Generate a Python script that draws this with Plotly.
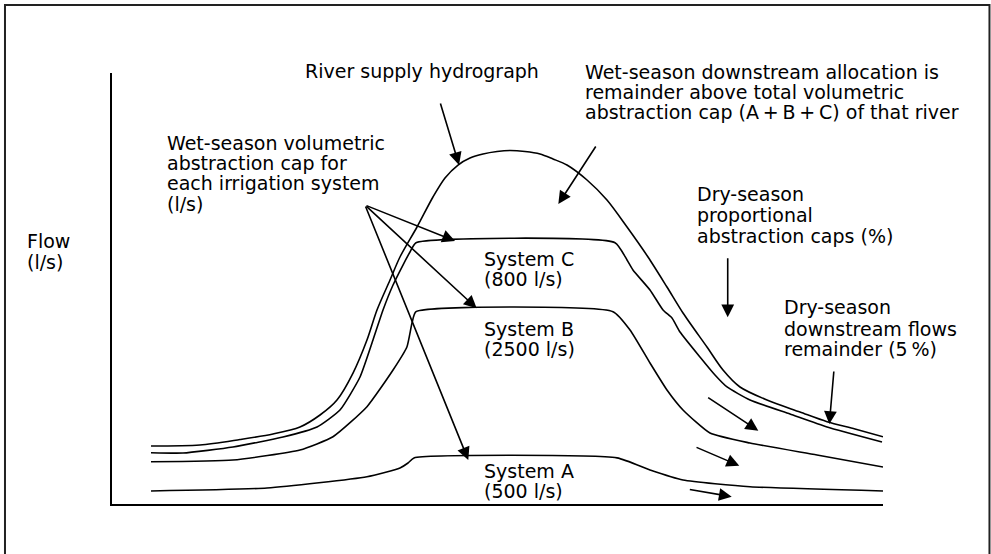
import plotly.graph_objects as go

# ---- Data (time in relative units 0-100, flow in relative units 0-100) ----
river_x = [5.06, 11.41, 16.60, 20.88, 24.38, 26.98, 29.18, 31.26, 33.07, 34.37, 36.06, 37.35,
           39.56, 41.63, 43.19, 44.88, 46.43, 48.12, 49.94, 51.62, 53.57, 55.51, 57.20, 59.01,
           61.61, 64.20, 66.80, 69.52, 71.98, 74.06, 77.17, 79.25, 81.45, 84.95, 89.23, 92.74,
           96.37, 100.0]
river_y = [13.46, 13.69, 14.97, 16.24, 17.87, 20.65, 24.13, 30.39, 38.05, 45.01, 51.97, 57.31,
           64.27, 71.23, 75.64, 78.65, 80.28, 81.21, 81.79, 82.02, 81.79, 81.21, 80.05, 78.65,
           75.17, 70.53, 64.27, 57.31, 50.35, 44.32, 36.43, 31.09, 27.15, 24.13, 21.35, 19.10,
           17.40, 15.61]

sysC_x = [5.06, 9.21, 15.69, 22.18, 26.59, 29.57, 32.17, 33.85, 35.15, 36.45, 37.74, 38.65, 39.43,
          65.24, 66.80, 67.57, 69.78, 71.47, 72.63, 73.67, 76.26, 78.21, 79.77, 82.75, 87.94,
          92.74, 99.87]
sysC_y = [11.90, 11.83, 13.23, 15.55, 17.87, 21.81, 29.47, 38.05, 45.01, 50.81, 55.45, 58.47, 60.63,
          60.63, 56.61, 54.29, 49.65, 45.01, 43.16, 39.91, 34.11, 29.93, 27.15, 24.13, 20.88,
          17.87, 14.39]

sysB_x = [5.06, 15.69, 24.38, 28.66, 33.07, 36.45, 38.26, 38.91, 39.43,
          64.98, 67.19, 69.78, 71.98, 74.06, 77.56, 82.75, 91.44, 100.0]
sysB_y = [9.81, 10.21, 12.53, 15.61, 22.58, 31.09, 36.50, 42.00, 44.62,
          44.62, 40.37, 32.71, 26.45, 21.81, 16.47, 14.15, 11.37, 8.58]

sysA_x = [5.06, 20.10, 33.07, 37.35, 38.39, 39.17, 65.50, 69.78, 74.06, 82.75, 100.0]
sysA_y = [3.02, 3.71, 6.33, 8.35, 9.51, 10.70, 10.70, 7.89, 5.57, 4.01, 3.02]

# arrows: (tail_x, tail_y, head_x, head_y)
arrows = [
    (42.54, 93.27, 45.01, 78.65),   # river supply hydrograph
    (62.87, 83.29, 57.89, 69.61),   # wet-season downstream allocation
    (32.81, 69.37, 44.49, 61.02),   # cap -> System C
    (32.81, 69.37, 47.30, 45.41),   # cap -> System B
    (32.81, 69.37, 46.21, 10.21),   # cap -> System A
    (79.86, 57.38, 79.86, 43.32),   # dry-season proportional caps
    (93.64, 31.09, 93.04, 18.56),   # dry-season downstream remainder
    (77.13, 24.90, 83.83, 17.01),
    (75.62, 13.29, 81.36, 8.89),
    (74.75, 3.41, 80.38, 1.69),
]

# text lines: (text, x, baseline y)  in axis units
labels = [
    ("River supply hydrograph", 24.77, 99.07),
    ("Wet-season downstream allocation is", 61.09, 98.84),
    ("remainder above total volumetric", 61.09, 94.20),
    ("abstraction cap (A\u2009+\u2009B\u2009+\u2009C) of that river", 61.09, 89.56),
    ("Wet-season volumetric", 6.87, 82.48),
    ("abstraction cap for", 6.87, 77.73),
    ("each irrigation system", 6.87, 72.97),
    ("(l/s)", 6.87, 68.21),
    ("Flow", -11.28, 59.63),
    ("(l/s)", -11.28, 54.75),
    ("System C", 47.99, 55.45),
    ("(800 l/s)", 47.99, 50.81),
    ("System B", 47.99, 39.21),
    ("(2500 l/s)", 47.99, 34.57),
    ("System A", 47.99, 6.26),
    ("(500 l/s)", 47.99, 1.69),
    ("Dry-season", 75.62, 70.53),
    ("proportional", 75.62, 65.66),
    ("abstraction caps (%)", 75.62, 60.90),
    ("Dry-season", 86.96, 44.25),
    ("downstream flows", 86.96, 39.21),
    ("remainder (5\u2009%)", 86.96, 34.57),
]

FONT = "DejaVu Sans"
FSIZE = 19

fig = go.Figure()
for xs, ys, sm in [(river_x, river_y, 0.8), (sysC_x, sysC_y, 0.5),
                   (sysB_x, sysB_y, 0.5), (sysA_x, sysA_y, 0.5)]:
    fig.add_trace(go.Scatter(x=xs, y=ys, mode="lines",
                             line=dict(color="black", width=1.6, shape="spline", smoothing=sm),
                             hoverinfo="skip", showlegend=False))

annotations = []
for tx, ty, hx, hy in arrows:
    annotations.append(dict(x=hx, y=hy, ax=tx, ay=ty, xref="x", yref="y", axref="x", ayref="y",
                            text="", showarrow=True, arrowhead=2, arrowsize=1.6,
                            arrowwidth=1.6, arrowcolor="black"))
for txt, x, y in labels:
    annotations.append(dict(x=x / 100.0, y=y / 100.0, xref="paper", yref="paper",
                            text=txt, showarrow=False, xanchor="left", yanchor="middle",
                            yshift=6, font=dict(family=FONT, size=FSIZE, color="black")))

fig.update_layout(
    width=991, height=554,
    margin=dict(l=112, r=108, t=73, b=50),
    paper_bgcolor="white", plot_bgcolor="white",
    showlegend=False,
    annotations=annotations,
    xaxis=dict(range=[0, 100], showgrid=False, zeroline=False, showticklabels=False,
               ticks="", showline=True, linecolor="black", linewidth=2, fixedrange=True),
    yaxis=dict(range=[0, 100], showgrid=False, zeroline=False, showticklabels=False,
               ticks="", showline=True, linecolor="black", linewidth=2, fixedrange=True),
    shapes=[dict(type="rect", xref="paper", yref="paper",
                 x0=-0.1388, x1=1.1381, y0=-0.125, y1=1.1578,
                 line=dict(color="#222222", width=2), fillcolor="rgba(0,0,0,0)")],
)

fig.write_html("out.html", config={"displayModeBar": False, "staticPlot": True},
               post_script="document.body.style.margin='0px';document.body.style.overflow='hidden';")
